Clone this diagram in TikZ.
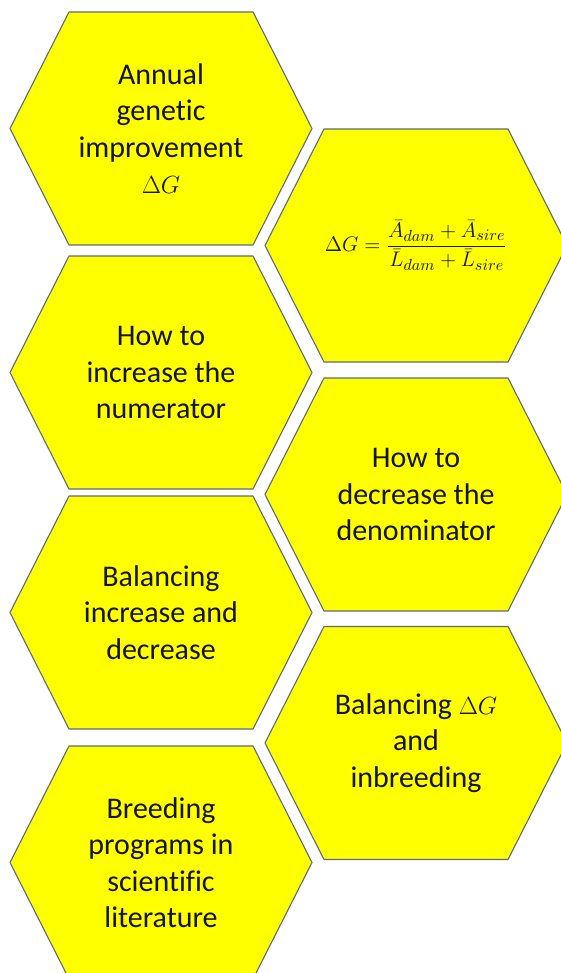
\documentclass[tikz,border=0pt]{standalone}
\usepackage{amsmath}
\usepackage{fontspec}
\setmainfont[Ligatures=NoCommon]{Carlito}
\definecolor{hexfill}{HTML}{FFFF00}
\definecolor{hexline}{HTML}{5A6B7C}
\definecolor{txt}{HTML}{141414}
\tikzset{
  hexbox/.style={fill=hexfill, draw=hexline, line width=1.1pt, line join=miter},
  hextext/.style={align=center, text=txt, font=\fontsize{30}{36.5}\selectfont, inner sep=0pt},
}
\newcommand{\hexshape}[3]{%
  \draw[hexbox] (#2-151,#3) -- (#2-92,#3-116.5) -- (#2+92,#3-116.5) -- (#2+151,#3) -- (#2+92,#3+116.5) -- (#2-92,#3+116.5) -- cycle;
  \coordinate (#1) at (#2,#3);
}
\begin{document}
\begin{tikzpicture}[x=1pt,y=-1pt]
\useasboundingbox (0,0) rectangle (561,973);
\clip (0,0) rectangle (561,973);
\hexshape{h1}{161}{128.5}
\hexshape{h2}{416}{245.5}
\hexshape{h3}{161}{372.5}
\hexshape{h4}{416}{494.5}
\hexshape{h5}{161}{612.5}
\hexshape{h6}{416}{743}
\hexshape{h7}{161}{862.5}
\node[hextext] (t1) at (h1) {Annual\\genetic\\improvement\\$\Delta G$};
\node[text=txt, inner sep=0pt, font=\fontsize{15}{18}\selectfont] (t2) at (h2) {\scalebox{1.47}{$\Delta G=\dfrac{\bar{A}_{dam}+\bar{A}_{sire}}{\bar{L}_{dam}+\bar{L}_{sire}}$}};
\node[hextext] (t3) at (h3) {How to\\increase the\\numerator};
\node[hextext] (t4) at (h4) {How to\\decrease the\\denominator};
\node[hextext] (t5) at (h5) {Balancing\\increase and\\decrease};
\node[hextext] (t6) at (h6) {Balancing $\Delta G$\\and\\inbreeding};
\node[hextext] (t7) at (h7) {Breeding\\programs in\\scientific\\literature};
\end{tikzpicture}
\end{document}
